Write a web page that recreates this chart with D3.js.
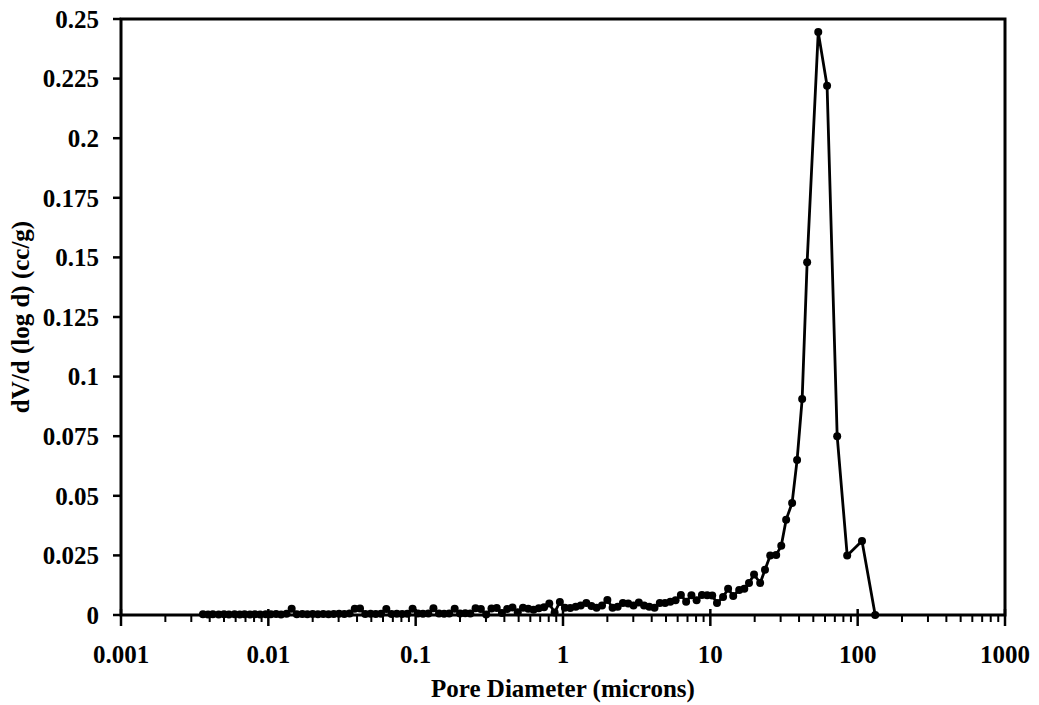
<!DOCTYPE html>
<html>
<head>
<meta charset="utf-8">
<script src="https://cdn.jsdelivr.net/npm/d3@7"></script>
<style>
  body { margin: 0; background: #fff; }
  text { font-family: "Liberation Serif", "Times New Roman", serif; font-weight: bold; fill: #000; }
</style>
</head>
<body>
<svg id="chart"></svg>
<script>
// DATA

const diameters = [
  0.0036, 0.0039, 0.0042, 0.0046, 0.0050, 0.0054, 0.0059, 0.0064, 0.0069, 0.0075, 0.0081, 0.0088, 0.0096,
  0.0104, 0.0113, 0.0122, 0.0133, 0.0144, 0.0156, 0.0170, 0.0184, 0.0200, 0.0217, 0.0236, 0.0256, 0.0278, 0.0302,
  0.0328, 0.0356, 0.0386, 0.0419, 0.0455, 0.0494, 0.0536, 0.0582, 0.0632, 0.0686, 0.0745, 0.0809, 0.0878, 0.0953,
  0.1035, 0.112, 0.122, 0.132, 0.144, 0.156, 0.169, 0.184, 0.200, 0.217, 0.235, 0.255, 0.277, 0.301,
  0.327, 0.355, 0.385, 0.418, 0.454, 0.493, 0.535, 0.581, 0.631, 0.685, 0.744, 0.807, 0.877, 0.952,
  1.03, 1.12, 1.22, 1.32, 1.44, 1.56, 1.69, 1.84, 2.00, 2.17, 2.35, 2.55, 2.77, 3.01,
  3.27, 3.55, 3.85, 4.18, 4.54, 4.93, 5.35, 5.81, 6.31, 6.85, 7.44, 8.07, 8.77, 9.52,
  10.3, 11.1, 12.2, 13.2, 14.3, 15.7, 17.0, 18.3, 19.8, 21.8, 23.5, 25.5, 28.0, 30.3,
  32.7, 35.9, 38.8, 42.0, 45.4, 54.0, 62.0, 72.6, 84.9, 107, 131.5
];

const dvValues = [
  0.0003, 0.0002, 0.0003, 0.0002, 0.0003, 0.0002, 0.0003, 0.0002, 0.0003, 0.0002, 0.0003, 0.0002, 0.0003,
  0.0003, 0.0004, 0.0002, 0.0005, 0.0026, 0.0003, 0.0004, 0.0003, 0.0004, 0.0003, 0.0004, 0.0003, 0.0004, 0.0005,
  0.0004, 0.0006, 0.0026, 0.0027, 0.0004, 0.0005, 0.0004, 0.0005, 0.0025, 0.0004, 0.0005, 0.0004, 0.0005, 0.0026,
  0.0006, 0.0005, 0.0006, 0.0028, 0.0006, 0.0005, 0.0006, 0.0026, 0.0006, 0.0007, 0.0006, 0.0028, 0.0025, 0.0002,
  0.0027, 0.0029, 0.0008, 0.0025, 0.0031, 0.0012, 0.0030, 0.0026, 0.0022, 0.0028, 0.0032, 0.0048, 0.0010, 0.0055,
  0.0030, 0.0029, 0.0035, 0.0040, 0.0050, 0.0038, 0.0030, 0.0040, 0.0063, 0.0030, 0.0035, 0.0050, 0.0048, 0.0040,
  0.0052, 0.0040, 0.0035, 0.0030, 0.0050, 0.0050, 0.0056, 0.0062, 0.0084, 0.0056, 0.0083, 0.0062, 0.0084, 0.0083,
  0.0082, 0.0050, 0.0075, 0.0110, 0.0080, 0.0105, 0.0110, 0.0134, 0.0170, 0.0134, 0.0190, 0.0250, 0.0252, 0.0290,
  0.0400, 0.0470, 0.0650, 0.0906, 0.1480, 0.2445, 0.2220, 0.0750, 0.0250, 0.0310, 0.0000
];

const xTickValues = [0.001, 0.01, 0.1, 1, 10, 100, 1000];
const xTickLabels = ["0.001", "0.01", "0.1", "1", "10", "100", "1000"];
const yTickValues = [0, 0.025, 0.05, 0.075, 0.1, 0.125, 0.15, 0.175, 0.2, 0.225, 0.25];
const yTickLabels = ["0", "0.025", "0.05", "0.075", "0.1", "0.125", "0.15", "0.175", "0.2", "0.225", "0.25"];

const points = diameters.map((d, i) => ({ d: d, v: dvValues[i] }));

// LAYOUT

const width = 1039;
const height = 705;
const margin = { top: 19, right: 34, bottom: 90, left: 121 };

const svg = d3.select("#chart")
  .attr("width", width)
  .attr("height", height);

const x = d3.scaleLog()
  .domain([0.001, 1000])
  .range([margin.left, width - margin.right]);

const y = d3.scaleLinear()
  .domain([0, 0.25])
  .range([height - margin.bottom, margin.top]);

const x0 = x.range()[0], x1 = x.range()[1];
const y0 = y.range()[0], y1 = y.range()[1];

// MINOR X TICKS

const minorTicks = [];
for (let e = -3; e < 3; e++) {
  for (let m = 2; m <= 9; m++) {
    minorTicks.push(m * Math.pow(10, e));
  }
}

svg.append("g")
  .selectAll("line")
  .data(minorTicks)
  .enter()
  .append("line")
  .attr("x1", d => x(d))
  .attr("x2", d => x(d))
  .attr("y1", y0)
  .attr("y2", y0 + 7)
  .attr("stroke", "#000")
  .attr("stroke-width", 2);

// MAJOR X TICKS

svg.append("g")
  .selectAll("line")
  .data(xTickValues)
  .enter()
  .append("line")
  .attr("x1", d => x(d))
  .attr("x2", d => x(d))
  .attr("y1", y0 - 6)
  .attr("y2", y0 + 11)
  .attr("stroke", "#000")
  .attr("stroke-width", 2.5);

svg.append("g")
  .selectAll("text")
  .data(xTickValues)
  .enter()
  .append("text")
  .attr("x", d => x(d))
  .attr("y", y0 + 48)
  .attr("text-anchor", "middle")
  .attr("font-size", "25px")
  .text((d, i) => xTickLabels[i]);

// Y TICKS

svg.append("g")
  .selectAll("line")
  .data(yTickValues)
  .enter()
  .append("line")
  .attr("x1", x0 - 8)
  .attr("x2", x0)
  .attr("y1", d => y(d))
  .attr("y2", d => y(d))
  .attr("stroke", "#000")
  .attr("stroke-width", 2.5);

svg.append("g")
  .selectAll("text")
  .data(yTickValues)
  .enter()
  .append("text")
  .attr("x", x0 - 22)
  .attr("y", d => y(d))
  .attr("dy", "0.35em")
  .attr("text-anchor", "end")
  .attr("font-size", "25px")
  .text((d, i) => yTickLabels[i]);

// FRAME

svg.append("rect")
  .attr("x", x0)
  .attr("y", y1)
  .attr("width", x1 - x0)
  .attr("height", y0 - y1)
  .attr("fill", "none")
  .attr("stroke", "#000")
  .attr("stroke-width", 3);

// SERIES

const line = d3.line()
  .x(d => x(d.d))
  .y(d => y(d.v));

svg.append("path")
  .datum(points)
  .attr("d", line)
  .attr("fill", "none")
  .attr("stroke", "#000")
  .attr("stroke-width", 2.8)
  .attr("stroke-linejoin", "round");

svg.append("g")
  .selectAll("circle")
  .data(points)
  .enter()
  .append("circle")
  .attr("cx", d => x(d.d))
  .attr("cy", d => y(d.v))
  .attr("r", 4)
  .attr("fill", "#000");

// AXIS TITLES

svg.append("text")
  .attr("x", (x0 + x1) / 2)
  .attr("y", y0 + 82)
  .attr("text-anchor", "middle")
  .attr("font-size", "25px")
  .text("Pore Diameter (microns)");

svg.append("text")
  .attr("transform", `translate(29, ${(y0 + y1) / 2}) rotate(-90)`)
  .attr("text-anchor", "middle")
  .attr("font-size", "25px")
  .text("dV/d (log d) (cc/g)");
</script>
</body>
</html>
